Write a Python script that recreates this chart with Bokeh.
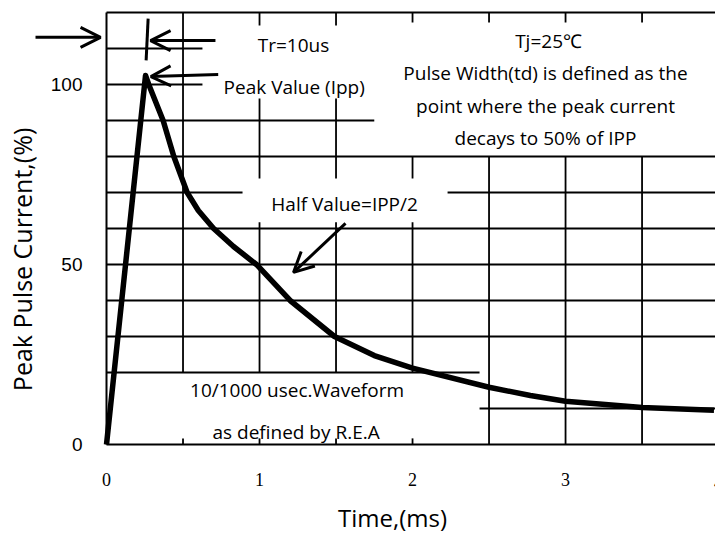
import math
from bokeh.plotting import figure
from bokeh.models import Range1d, FixedTicker, Label, Arrow, OpenHead
from bokeh.embed import file_html
from bokeh.resources import INLINE

# ---- data (10/1000 us waveform) ----
time_ms = [0, 0.255, 0.276, 0.37, 0.44, 0.527, 0.60, 0.70, 0.83, 0.98, 1.20, 1.49, 1.75, 2.00, 2.50, 2.77, 3.00, 3.50, 3.97]
current_pct = [0, 102.5, 100, 90, 80, 70, 65, 60, 55, 50, 40, 30, 24.7, 21.2, 15.9, 13.6, 12, 10.3, 9.5]
x_ticks = [0, 1, 2, 3]
x_last_tick = 4
y_ticks = [0, 50, 100]

XMAX = 3.98      # right edge of the drawing (the 4 ms line is just off the page)
YTOP = 120       # top border of the chart box

# the frame covers the whole page; the axes are pinned at 0
p = figure(width=715, height=536,
           x_range=Range1d(-0.6928, XMAX), y_range=Range1d(-25.556, 123.33),
           output_backend="svg", toolbar_location=None, min_border=0)
p.outline_line_color = None
p.xgrid.visible = False
p.ygrid.visible = False
p.background_fill_color = "white"
p.border_fill_color = "white"

for ax in (p.xaxis[0], p.yaxis[0]):
    ax.fixed_location = 0
    ax.major_tick_in = 0
    ax.major_tick_out = 0
    ax.minor_tick_in = 0
    ax.minor_tick_out = 0
    ax.axis_line_width = 2
    ax.axis_line_color = "black"
    ax.major_label_text_color = "black"

p.xaxis.bounds = (0, XMAX)
p.xaxis.ticker = FixedTicker(ticks=x_ticks)
p.xaxis.major_label_text_font = "Liberation Serif"
p.xaxis.major_label_text_font_size = "18px"
p.xaxis.major_label_standoff = 29

p.yaxis.bounds = (0, YTOP)
p.yaxis.ticker = FixedTicker(ticks=y_ticks)
p.yaxis.major_label_text_font = "Liberation Sans"
p.yaxis.major_label_text_font_size = "19px"
p.yaxis.major_label_standoff = 24

# ---- broken grid of the datasheet drawing ----
hx0, hy0, hx1, hy1 = [], [], [], []
def hline(y, a, b):
    hx0.append(a); hx1.append(b); hy0.append(y); hy1.append(y)
def vline(x, a, b):
    hx0.append(x); hx1.append(x); hy0.append(a); hy1.append(b)

hline(110, 0, 0.627)
hline(100, 0, 0.627)
hline(90, 0, 1.75)
hline(80, 0, XMAX)
hline(70, 0, 0.889)
hline(70, 2.229, XMAX)
for yy in (60, 50, 40, 30):
    hline(yy, 0, XMAX)
hline(20, 0, 2.438)
hline(10, 2.438, XMAX)

vline(0.5, YTOP, 20)
vline(0.5, 0, 1.7)
for xx in (1.0, 1.5):
    vline(xx, YTOP, 116.4)
    vline(xx, 96.1, 73.9)
    vline(xx, 61.7, 20)
    vline(xx, 0, 1.7)
vline(2.0, YTOP, 117.2)
vline(2.0, 80, 73.9)
vline(2.0, 61.7, 20)
vline(2.0, 0, 1.7)
for xx in (2.5, 3.0, 3.5):
    vline(xx, YTOP, 117.2)
    vline(xx, 80, 0)

p.segment(hx0, hy0, hx1, hy1, line_width=1.8, line_color="black")
# top border of the box
p.segment([0], [YTOP], [XMAX], [YTOP], line_width=2, line_color="black")

# rise-time marker
p.segment([0.272], [118.3], [0.259], [106.7], line_width=3, line_color="black")

# waveform
p.line(time_ms, current_pct, line_width=5.5, line_color="black", line_join="round")

# arrows
def arrow(x0, y0, x1, y1):
    p.add_layout(Arrow(end=OpenHead(size=20, line_width=3, line_color="black"),
                       x_start=x0, y_start=y0, x_end=x1, y_end=y1,
                       line_width=3, line_color="black"))

arrow(-0.464, 113.1, -0.039, 113.1)
arrow(0.712, 112.2, 0.288, 112.2)
arrow(0.73, 102.8, 0.29, 102.2)
arrow(1.562, 61.4, 1.222, 47.8)

# annotations
FONT = "Open Sans"
def txt(s, x, y, align="center", size="19px", font=FONT, angle=0):
    p.add_layout(Label(text=s, x=x, y=y, text_align=align, text_baseline="middle",
                       text_font=font, text_font_size=size, text_color="black", angle=angle))

txt("Tr=10us", 1.222, 111.0)
txt("Peak Value (Ipp)", 0.765, 99.4, align="left")
txt("Tj=25℃", 2.889, 112.0)
txt("Pulse Width(td) is defined as the", 2.869, 103.1)
txt("point where the peak current", 2.869, 94.0)
txt("decays to 50% of IPP", 2.869, 85.1)
txt("Half Value=IPP/2", 1.556, 66.9)
txt("10/1000 usec.Waveform", 1.245, 15.1)
txt("as defined by R.E.A", 1.239, 3.5)

# partially visible last tick label
txt(str(x_last_tick), x_last_tick, -10.6, font="Liberation Serif", size="18px")

# axis titles
txt("Time,(ms)", 1.869, -20.2, size="24px")
txt("Peak Pulse Current,(%)", -0.555, 51.4, size="25px", angle=math.pi / 2)

open("out.html", "w").write(file_html(p, INLINE))
